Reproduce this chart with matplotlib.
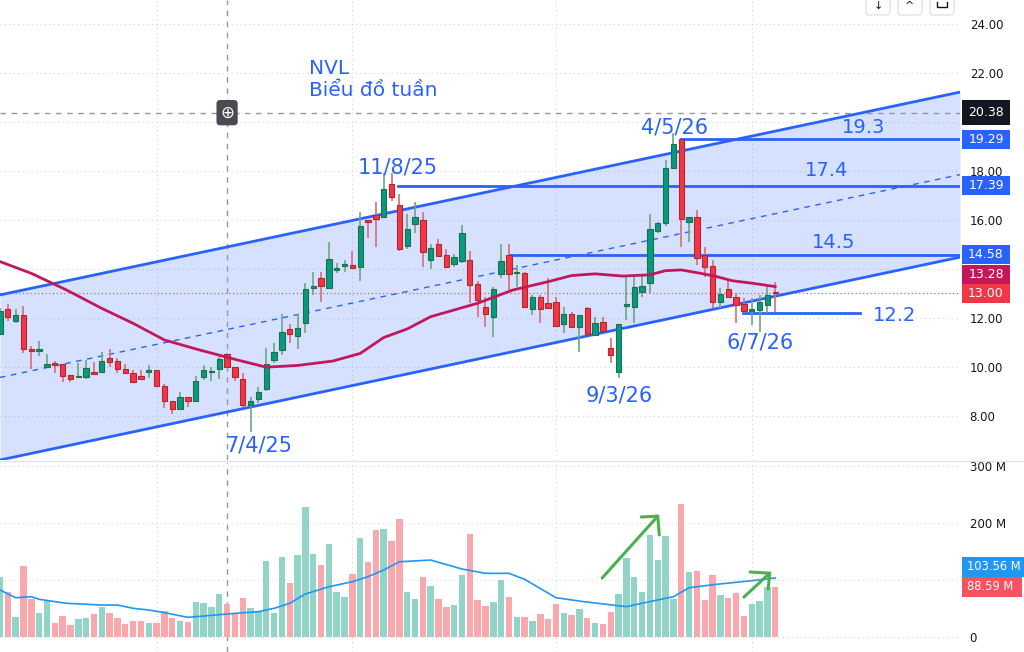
import matplotlib
matplotlib.use("Agg")
import matplotlib.pyplot as plt
from matplotlib.patches import FancyBboxPatch, Rectangle

# weekly candles NVL (index 0 = leftmost visible week)
opens = [11.35, 12.35, 11.89, 12.12, 10.75, 10.64, 10.00, 10.16, 10.12, 9.66,
         9.58, 9.58, 9.81, 9.78, 10.38, 10.24, 9.90, 9.77, 9.63, 9.81,
         9.88, 9.22, 8.61, 8.30, 8.79, 8.62, 9.58, 9.78, 9.93, 10.52,
         9.99, 9.52, 8.46, 8.68, 9.09, 10.29, 10.69, 11.55, 11.28, 11.78,
         13.22, 13.63, 13.21, 13.96, 14.13, 14.15, 14.07, 16.00, 16.20, 16.11,
         17.47, 16.61, 14.95, 15.82, 16.00, 14.36, 15.02, 14.57, 14.20, 14.34,
         14.37, 13.39, 12.46, 12.02, 13.80, 14.57, 13.82, 13.82, 12.35, 12.84,
         12.60, 12.64, 11.74, 12.15, 11.62, 12.40, 11.31, 11.85, 10.76, 9.81,
         12.49, 12.46, 13.07, 13.42, 15.56, 15.86, 18.11, 19.29, 15.93, 16.11,
         14.57, 14.13, 12.67, 13.17, 12.87, 12.56, 12.30, 12.33, 12.52, 13.05]
highs = [12.40, 12.57, 12.37, 12.49, 10.86, 11.06, 10.53, 10.26, 10.12, 9.66,
         10.15, 10.29, 10.22, 10.62, 10.72, 10.35, 10.12, 9.88, 9.88, 10.08,
         9.88, 9.29, 8.61, 8.99, 8.79, 9.63, 10.08, 10.01, 10.42, 10.56,
         10.01, 9.77, 8.79, 9.20, 10.76, 10.99, 12.16, 11.76, 12.16, 13.42,
         13.89, 13.89, 15.11, 14.23, 14.37, 14.75, 16.31, 16.00, 16.75, 17.90,
         17.90, 17.05, 16.24, 16.75, 16.31, 15.02, 15.22, 14.80, 14.61, 15.80,
         14.73, 13.51, 12.87, 13.28, 15.02, 15.01, 14.16, 13.87, 12.94, 12.94,
         13.62, 12.84, 12.44, 12.23, 12.12, 12.46, 12.05, 12.03, 11.17, 11.76,
         13.76, 13.76, 13.71, 16.24, 15.93, 18.45, 19.54, 19.29, 16.11, 16.41,
         14.89, 14.37, 13.21, 13.55, 13.01, 12.80, 12.80, 12.94, 13.32, 13.46]
lows = [11.30, 11.88, 11.80, 10.57, 9.93, 10.46, 9.96, 9.77, 9.39, 9.40,
        9.54, 9.50, 9.67, 9.74, 9.99, 9.77, 9.70, 9.36, 9.47, 9.56,
        9.24, 8.31, 8.08, 8.27, 8.38, 8.58, 9.47, 9.44, 9.50, 9.99,
        9.44, 8.36, 7.36, 8.52, 9.03, 10.15, 10.49, 10.99, 10.73, 11.38,
        12.94, 12.64, 13.21, 13.82, 13.89, 14.01, 13.52, 15.28, 14.89, 16.07,
        16.79, 14.75, 14.82, 15.46, 14.07, 13.99, 14.50, 14.03, 14.07, 14.23,
        12.62, 12.03, 11.64, 11.24, 13.62, 13.14, 13.25, 12.44, 12.12, 11.78,
        12.42, 11.69, 11.38, 11.62, 10.62, 11.35, 11.28, 11.44, 10.15, 9.54,
        11.92, 11.78, 12.87, 13.03, 15.46, 15.76, 18.08, 14.91, 15.11, 14.16,
        13.69, 12.40, 12.40, 12.87, 11.78, 12.19, 11.71, 11.44, 12.19, 12.26]
closes = [12.29, 12.04, 12.12, 10.75, 10.64, 10.75, 10.12, 10.07, 9.63, 9.52,
          9.63, 9.95, 9.70, 10.24, 10.19, 9.92, 9.74, 9.39, 9.52, 9.85,
          9.24, 8.62, 8.30, 8.79, 8.60, 9.44, 9.88, 9.82, 10.34, 10.01,
          9.58, 8.46, 8.61, 8.99, 10.11, 10.62, 11.43, 11.33, 11.60, 13.20,
          13.30, 13.32, 14.40, 14.00, 14.17, 14.05, 15.77, 15.93, 16.05, 17.27,
          16.93, 14.82, 15.63, 16.11, 14.68, 14.84, 14.54, 14.07, 14.50, 15.46,
          13.34, 12.73, 12.15, 13.18, 14.34, 13.80, 13.87, 12.44, 12.87, 12.37,
          12.42, 11.69, 12.15, 11.62, 12.11, 11.35, 11.78, 11.47, 10.49, 11.76,
          12.53, 13.28, 13.31, 15.62, 15.86, 18.11, 19.10, 16.03, 16.11, 14.44,
          14.07, 12.64, 12.98, 12.87, 12.53, 12.30, 12.35, 12.67, 12.94, 13.00]
# volume in millions
volumes = [104.7, 78.4, 35.7, 124.6, 67.3, 42.1, 64.9, 25.1, 36.8, 20.5,
           32.2, 33.9, 40.9, 53.2, 42.7, 33.9, 23.4, 28.1, 28.1, 25.1,
           25.1, 45.6, 33.9, 28.1, 26.3, 61.4, 59.6, 53.2, 74.9, 58.5,
           39.8, 68.4, 51.5, 45.6, 133.3, 42.7, 140.4, 94.7, 143.3, 227.5,
           146.2, 125.7, 162.6, 79.5, 70.2, 111.1, 174.3, 132.2, 187.7, 189.5,
           168.4, 207.6, 78.9, 67.3, 105.3, 89.5, 66.1, 53.2, 55.6, 109.4,
           181.3, 64.3, 54.4, 61.4, 100.0, 70.2, 35.7, 35.7, 28.1, 39.8,
           31.0, 57.3, 42.7, 38.6, 48.5, 33.9, 25.1, 23.4, 43.9, 74.9,
           139.2, 105.3, 78.9, 178.4, 134.5, 177.2, 67.3, 232.7, 114.6, 116.4,
           64.9, 108.2, 73.1, 67.8, 77.2, 36.8, 57.3, 63.2, 87.7, 88.59]

# moving averages (week index, value)
ma_idx = [0, 4, 8.5, 13, 17, 21, 25.5, 30, 34, 38, 42.5, 46, 49, 52, 55,
          61, 65.5, 70, 73, 76, 79.5, 83, 85, 87, 89.5, 91.5, 93.5, 96, 99]
ma_val = [14.3, 13.82, 13.14, 12.39, 11.78, 11.1, 10.69, 10.31, 9.99, 10.06,
          10.24, 10.55, 11.2, 11.55, 12.05, 12.6, 13.14, 13.48, 13.73, 13.8,
          13.71, 13.76, 13.93, 13.96, 13.82, 13.69, 13.52, 13.42, 13.28]
vma_idx = [0, 2, 4, 5, 8.5, 13, 15, 17, 19, 21, 24, 26, 30, 33, 35, 37, 39,
           42, 45, 47, 49, 51, 55, 59, 62, 65, 67, 71, 74.5, 80, 83, 86, 88,
           91.5, 96, 99]
vma_val = [82.5, 69, 70.7, 66.1, 59.1, 56.1, 56.1, 50.3, 47.4, 42.7, 34.5,
           36.8, 41.5, 44.4, 50.3, 59.1, 75.4, 88.2, 97, 105.8, 117.5, 132,
           135, 119.3, 111.7, 111.7, 101.2, 69, 62.1, 53.2, 62.1, 70.7, 86.5,
           92.4, 98.8, 103.56]

# drawings
channel_x = [0, 122.6]
channel_upper = [12.94, 21.22]
channel_lower = [6.2, 14.48]
levels = [19.29, 17.39, 14.58, 12.2]
level_start = [87, 50.8, 65.1, 94.9]
level_end = [122.6, 122.6, 122.6, 109.8]
level_texts = ["19.3", "17.4", "14.5", "12.2"]
level_text_pos = [(110.3, 19.76), (105.5, 18.0), (106.4, 15.06), (114.2, 12.08)]
date_texts = ["7/4/25", "11/8/25", "4/5/26", "9/3/26", "6/7/26"]
date_text_pos = [(33.1, 6.78), (50.8, 18.16), (86.2, 19.76), (79.05, 8.82), (97.1, 10.98)]
month_lines = [20.05, 44.96, 71.0, 96.04]
price_ticks = [8, 10, 12, 14, 16, 18, 20, 22, 24]
price_tick_shown = [8, 10, 12, 16, 18, 22, 24]
vol_ticks = [0, 100, 200, 300]
vol_tick_shown = [0, 200, 300]
cross_x, cross_y = 29.0, 20.38

blue = "#2962FF"
up = "#089981"
down = "#F23645"
grid = "#D1D4DC"
axis_text = "#131722"


def scale_box(ax, y, h, t, color, width=0.05, left_text=False, size=9):
    # label box on the right scale: x in axes fraction, y/h in data units
    tr = ax.get_yaxis_transform()
    x0 = 962 / 960
    ax.add_patch(Rectangle((x0, y - h / 2), width, h, transform=tr,
                           fc=color, ec="none", zorder=10, clip_on=False))
    if left_text:
        ax.text(967 / 960, y, t, transform=tr, ha="left", va="center",
                color="white", fontsize=size, zorder=11, clip_on=False)
    else:
        ax.text(x0 + width / 2, y, t, transform=tr, ha="center",
                va="center", color="white", fontsize=size, zorder=11,
                clip_on=False)


def month_grid(ax):
    for m in month_lines:
        ax.axvline(m, color=grid, lw=0.8, ls=(0, (1, 3)), zorder=0)


if __name__ == "__main__":
    fig = plt.figure(figsize=(10.24, 6.52), dpi=100)
    fig.patch.set_facecolor("white")
    ax = fig.add_axes([0, 192 / 652, 960 / 1024, 460 / 652])
    axv = fig.add_axes([0, 0, 960 / 1024, 190 / 652])

    for a in (ax, axv):
        a.set_xlim(0, 122.6)
        for s in a.spines.values():
            s.set_visible(False)
        a.set_xticks([])
        a.yaxis.tick_right()
        a.tick_params(axis="y", length=0, pad=7, labelsize=8.5,
                      labelcolor=axis_text)
        month_grid(a)

    # ---- price panel
    ax.set_ylim(6.20, 24.98)
    ax.set_yticks(price_tick_shown)
    ax.set_yticklabels([f"{p:.2f}" for p in price_tick_shown])
    for p in price_ticks:
        ax.axhline(p, color=grid, lw=0.8, ls=(0, (1, 3)), zorder=0)

    ax.fill_between(channel_x, channel_lower, channel_upper, color=blue,
                    alpha=0.19, lw=0, zorder=1)
    ax.plot(channel_x, channel_upper, color=blue, lw=2, zorder=3)
    ax.plot(channel_x, channel_lower, color=blue, lw=2, zorder=3)
    mid = [(u + l) / 2 for u, l in zip(channel_upper, channel_lower)]
    ax.plot(channel_x, mid, color=blue, lw=1, ls=(0, (4, 4)), zorder=3)

    for lv, x0, x1 in zip(levels, level_start, level_end):
        ax.plot([x0, x1], [lv, lv], color=blue, lw=2, zorder=3)

    ax.axhline(closes[-1], color=down, lw=0.9, ls=(0, (1, 2)), alpha=0.8,
               zorder=2)

    xs = list(range(len(opens)))
    for i in xs:
        o, h, l, c = opens[i], highs[i], lows[i], closes[i]
        rising = c >= o
        wick = "#6FA57E" if rising else "#D96B76"
        ax.vlines(i, l, h, color=wick, lw=1.2, zorder=4)
        body = max(abs(c - o), 0.06)
        ax.bar(i, body, bottom=min(o, c), width=0.68,
               color=up if rising else down,
               edgecolor="#1E7048" if rising else "#B3262F",
               lw=0.8, zorder=5)

    ax.plot(ma_idx, ma_val, color="#C2185B", lw=2, zorder=6)

    # crosshair
    ax.axhline(cross_y, color="#9598A1", lw=1, ls=(0, (4, 4)), zorder=2)
    ax.axvline(cross_x, color="#9598A1", lw=1, ls=(0, (4, 4)), zorder=2)
    axv.axvline(cross_x, color="#9598A1", lw=1, ls=(0, (4, 4)), zorder=2)
    ax.text(cross_x, cross_y, "\u2295", color="white", fontsize=12,
            ha="center", va="center", zorder=9,
            bbox=dict(boxstyle="round,pad=0.22", fc="#4A4B50", ec="none"))

    # annotations
    ax.text(39.4, 22.2, "NVL", color=blue, fontsize=14.5, ha="left",
            va="center", zorder=8)
    ax.text(39.4, 21.27, "Biểu đồ tuần", color=blue, fontsize=14.5,
            ha="left", va="center", zorder=8)
    for t, (x, y) in zip(date_texts, date_text_pos):
        ax.text(x, y, t, color=blue, fontsize=15, ha="center", va="center",
                zorder=8)
    for t, (x, y) in zip(level_texts, level_text_pos):
        ax.text(x, y, t, color=blue, fontsize=14, ha="center", va="center",
                zorder=8)

    # right scale labels (19 px tall boxes)
    bh = 19 / 24.5
    scale_box(ax, cross_y, 25 / 24.5, "20.38", "#131722")
    scale_box(ax, 19.29, bh, "19.29", blue)
    scale_box(ax, 17.39, bh, "17.39", blue)
    scale_box(ax, 14.58, bh, "14.58", blue)
    scale_box(ax, 13.78, bh, "13.28", "#C2185B")
    scale_box(ax, 13.00, bh, "13.00", down)

    # ---- volume panel
    axv.set_ylim(-26.3, 307)
    axv.set_yticks(vol_tick_shown)
    axv.set_yticklabels([f"{v} M" if v else "0" for v in vol_tick_shown])
    for v in vol_ticks:
        axv.axhline(v, color=grid, lw=0.8, ls=(0, (1, 3)), zorder=0)
    vcols = ["#92D4C8" if c >= o else "#F9A8AD" for o, c in zip(opens, closes)]
    axv.bar(xs, volumes, width=0.82, color=vcols, zorder=2)
    axv.plot(vma_idx, vma_val, color="#2196F3", lw=1.2, zorder=3)
    vh = 20 / 0.57
    scale_box(axv, 123.0, vh, "103.56 M", "#2196F3", width=0.07,
              left_text=True, size=8.3)
    scale_box(axv, 88.0, vh, "88.59 M", "#F7525F", width=0.062,
              left_text=True, size=8.3)

    # hand drawn arrows
    green = "#4CAF50"
    arrows = [([76.9, 84.0], [103.5, 212.0], [81.9, 84.2], [210.5, 179.0]),
              ([95.0, 98.3], [70.0, 112.0], [95.8, 98.1], [114.0, 84.0])]
    for (sx, sy, hx, hy) in arrows:
        axv.plot(sx, sy, color=green, lw=2.2, solid_capstyle="round", zorder=7)
        axv.plot([hx[0], sx[1], hx[1]], [hy[0], sy[1], hy[1]], color=green,
                 lw=2.2, solid_capstyle="round", solid_joinstyle="round",
                 zorder=7)

    # panel separator
    fig.add_artist(plt.Line2D([0, 1], [191 / 652, 191 / 652], color="#E0E3EB",
                              lw=1, transform=fig.transFigure))

    # toolbar buttons top right
    for bx in [866, 898, 930]:
        fig.add_artist(FancyBboxPatch((bx / 1024, (652 - 15) / 652),
                                      24 / 1024, 25 / 652,
                                      boxstyle="round,pad=0,rounding_size=0.005",
                                      fc="white", ec="#E0E3EB", lw=1,
                                      transform=fig.transFigure))
    fig.text(878 / 1024, (652 - 6) / 652, "\u2193", ha="center", va="center",
             fontsize=8, color=axis_text)
    fig.text(910 / 1024, (652 - 6) / 652, "^", ha="center", va="center",
             fontsize=8, color=axis_text)
    # open-box glyph drawn as a shape
    fig.add_artist(plt.Line2D([937 / 1024, 937 / 1024, 947 / 1024, 947 / 1024],
                              [650 / 652, 645 / 652, 645 / 652, 650 / 652],
                              color=axis_text, lw=1,
                              transform=fig.transFigure))

    fig.savefig("out.png", dpi=100, facecolor="white")
